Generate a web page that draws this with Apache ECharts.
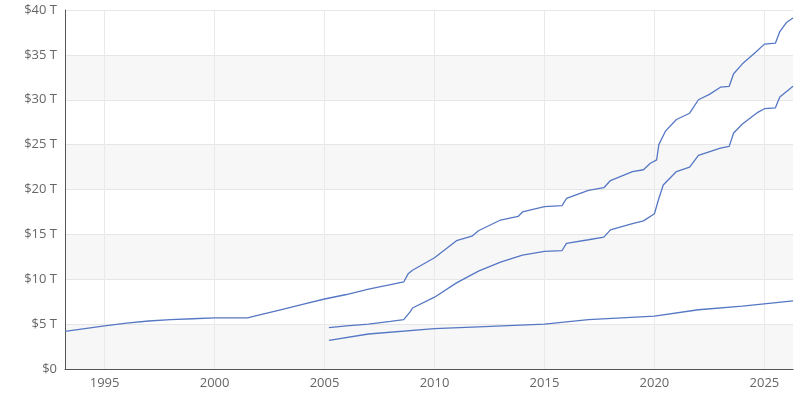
<!DOCTYPE html>
<html>
<head>
<meta charset="utf-8">
<script src="https://cdn.jsdelivr.net/npm/echarts@6/dist/echarts.min.js"></script>
<style>html,body{margin:0;padding:0;background:#fff}#main{width:806px;height:400px}</style>
</head>
<body>
<div id="main"></div>
<script>
// [year, trillions]
var totalDebt = [[1993.2,4.2],[1995,4.8],[1996,5.1],[1997,5.35],[1998,5.5],[1999,5.6],[2000,5.7],[2001.5,5.7],[2002,6.0],[2003,6.6],[2004,7.2],[2005,7.8],[2006,8.3],[2007,8.9],[2008,9.4],[2008.6,9.7],[2008.8,10.6],[2009,11.0],[2010,12.4],[2011,14.3],[2011.7,14.8],[2012,15.4],[2013,16.6],[2013.8,17.0],[2014,17.5],[2015,18.1],[2015.8,18.2],[2016,19.0],[2017,19.9],[2017.7,20.2],[2018,21.0],[2019,22.0],[2019.5,22.2],[2019.8,22.9],[2020.1,23.3],[2020.2,25.0],[2020.5,26.5],[2021,27.8],[2021.6,28.5],[2022,30.0],[2022.5,30.6],[2023,31.4],[2023.4,31.5],[2023.6,32.9],[2024,34.0],[2024.6,35.3],[2025,36.2],[2025.5,36.3],[2025.7,37.6],[2026,38.6],[2026.3,39.1]];
var publicDebt = [[2005.2,4.6],[2006,4.8],[2007,5.0],[2008,5.3],[2008.6,5.5],[2008.9,6.4],[2009,6.8],[2010,8.0],[2011,9.6],[2012,10.9],[2013,11.9],[2014,12.7],[2015,13.1],[2015.8,13.2],[2016,14.0],[2017,14.4],[2017.7,14.7],[2018,15.5],[2019,16.2],[2019.5,16.5],[2020,17.3],[2020.2,19.0],[2020.4,20.5],[2021,22.0],[2021.6,22.5],[2022,23.8],[2023,24.6],[2023.4,24.8],[2023.6,26.3],[2024,27.3],[2024.7,28.6],[2025,29.0],[2025.5,29.1],[2025.7,30.3],[2026.3,31.5]];
var intragovDebt = [[2005.2,3.2],[2007,3.9],[2010,4.5],[2012,4.7],[2015,5.0],[2017,5.5],[2020,5.9],[2022,6.6],[2024,7.0],[2026.3,7.6]];
var yearTicks = [1995,2000,2005,2010,2015,2020,2025];

var myChart = echarts.init(document.getElementById('main'));
function line(data) {
	return {type:'line', data:data, showSymbol:false, lineStyle:{width:1.3, color:'#5577c4'}, itemStyle:{color:'#5577c4'}};
}
myChart.setOption({
	animation:false,
	grid:{left:65, right:13, top:10, bottom:31},
	xAxis:{
		type:'value', min:1993.2, max:2026.3,
		axisLine:{lineStyle:{color:'#555'}},
		axisTick:{show:false, customValues:yearTicks},
		axisLabel:{customValues:yearTicks, color:'#666', fontSize:13, fontFamily:'Open Sans', formatter:function(v){return String(v);}},
		splitLine:{show:true, lineStyle:{color:'#eaeaea'}}
	},
	yAxis:{
		type:'value', min:0, max:40, interval:5,
		axisLine:{show:true, lineStyle:{color:'#555'}},
		axisTick:{show:false},
		axisLabel:{color:'#666', fontSize:13, fontFamily:'Open Sans', formatter:function(v){return v===0?'$0':'$'+v+' T';}},
		splitLine:{lineStyle:{color:'#e6e6e6'}},
		splitArea:{show:true, areaStyle:{color:['#f7f7f7','#ffffff']}}
	},
	series:[line(totalDebt), line(publicDebt), line(intragovDebt)]
});
</script>
</body>
</html>
